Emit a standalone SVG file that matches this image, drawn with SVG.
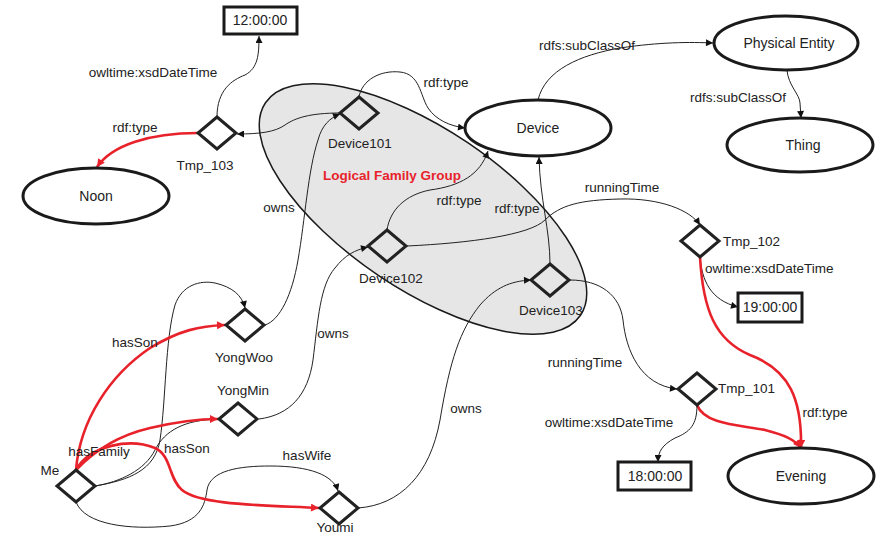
<svg xmlns="http://www.w3.org/2000/svg" width="887" height="542" viewBox="0 0 887 542">
<defs>
<marker id="ab" viewBox="0 0 10 10" refX="10" refY="5" markerWidth="9" markerHeight="7" orient="auto" markerUnits="userSpaceOnUse"><path d="M0,0 L10,5 L0,10 z" fill="#111"/></marker>
<marker id="ar" viewBox="0 0 10 10" refX="10" refY="5" markerWidth="10" markerHeight="8" orient="auto" markerUnits="userSpaceOnUse"><path d="M0,0 L10,5 L0,10 z" fill="#e8222b"/></marker>
</defs>
<style>
text{font-family:"Liberation Sans",Arial,sans-serif;fill:#222;}
.el{font-size:13.5px;}
.nl{font-size:14px;text-anchor:middle;}
.c{text-anchor:middle;}
.dia{fill:none;stroke:#222;stroke-width:3;stroke-linejoin:miter;}
.ell{fill:#fff;stroke:#1a1a1a;stroke-width:3;}
.box{fill:#fff;stroke:#1a1a1a;stroke-width:3;}
.k{fill:none;stroke:#222;stroke-width:1;marker-end:url(#ab);}
.kn{fill:none;stroke:#222;stroke-width:1;}
.r{fill:none;stroke:#e8222b;stroke-width:2.6;marker-end:url(#ar);}
</style>
<rect width="887" height="542" fill="#fff"/>
<g id="group">
<ellipse cx="423" cy="209" rx="190" ry="80" transform="rotate(34 423 209)" fill="#e6e6e6" stroke="#1a1a1a" stroke-width="1.5"/>
<text x="392" y="180" class="c" style="font-size:13.5px;font-weight:bold;fill:#e8222b">Logical Family Group</text>
</g>
<g id="connectors">
<path class="k" d="M217,117 C217,90 232,80 245,75 C258,68 259,55 259,36"/>
<path class="r" d="M198,133 C150,133 112,145 97,167"/>
<path class="k" d="M340,113 C310,113 295,118 285,125 C275,132 260,134 237,134"/>
<path class="k" d="M359,97 C362,80 380,70 400,72 C420,74 420,95 428,108 C436,120 450,126 465,128"/>
<path class="k" d="M387,230 C390,210 405,195 430,190 C460,186 480,175 488,151"/>
<path class="k" d="M550,264 C550,230 540,200 539,157"/>
<path class="k" d="M538,100 C545,70 580,55 620,48 C660,42 690,42 713,43"/>
<path class="k" d="M787,70 C788,85 800,95 800,103 L801,118"/>
<path class="k" d="M407,246 C470,243 530,235 545,220 C560,205 580,200 620,199 C660,198 690,210 700,225"/>
<path class="k" d="M700,257 C702,280 710,300 738,307"/>
<path class="r" d="M700,257 C703,310 715,340 750,355 C790,370 802,400 801,448"/>
<path class="r" d="M697,405 C705,425 740,425 765,430 C785,435 795,440 801,448"/>
<path class="k" d="M697,405 C697,425 690,432 675,438 C662,445 658,452 658,462"/>
<path class="k" d="M570,280 C600,280 620,295 623,320 C626,350 640,385 677,389"/>
<path class="k" d="M358,508 C400,505 430,475 440,420 C450,360 460,330 480,305 C495,288 510,281 531,280"/>
<path class="k" d="M259,419 C290,415 308,395 313,360 C318,320 320,285 335,268 C345,255 355,250 368,247"/>
<path class="k" d="M265,325 C280,320 292,295 298,260 C305,220 308,170 318,140 C322,125 330,118 340,114"/>
<path class="k" d="M95,486 C130,480 155,470 160,440 C166,400 165,340 175,305 C182,285 200,280 215,283 C232,287 242,295 245,308"/>
<path class="kn" d="M95,486 C120,482 145,470 155,450 C165,430 185,420 218,419"/>
<path class="k" d="M76,502 C85,525 130,530 170,526 C200,522 205,505 207,490 C210,470 240,466 270,466 C310,466 333,475 338,491"/>
<path class="r" d="M76,470 C80,420 110,375 150,348 C180,330 200,326 225,325"/>
<path class="r" d="M76,470 C95,450 120,435 150,428 C180,421 200,419 218,419"/>
<path class="r" d="M76,470 C90,445 130,438 155,448 C172,456 168,478 182,490 C200,505 260,505 319,508"/>
<text class="el c" x="153" y="77">owltime:xsdDateTime</text>
<text class="el c" x="135" y="132">rdf:type</text>
<text class="el c" x="446" y="87">rdf:type</text>
<text class="el c" x="587" y="50">rdfs:subClassOf</text>
<text class="el c" x="738" y="102">rdfs:subClassOf</text>
<text class="el c" x="279" y="212">owns</text>
<text class="el c" x="459" y="205">rdf:type</text>
<text class="el c" x="517" y="213">rdf:type</text>
<text class="el c" x="622" y="192">runningTime</text>
<text class="el" x="705" y="273">owltime:xsdDateTime</text>
<text class="el c" x="333" y="338">owns</text>
<text class="el c" x="135" y="347">hasSon</text>
<text class="el c" x="585" y="367">runningTime</text>
<text class="el c" x="466" y="413">owns</text>
<text class="el c" x="609" y="427">owltime:xsdDateTime</text>
<text class="el c" x="825" y="417">rdf:type</text>
<text class="el c" x="99" y="456">hasFamily</text>
<text class="el c" x="187" y="453">hasSon</text>
<text class="el c" x="307" y="460">hasWife</text>
</g>
<g id="n-1200"><rect class="box" x="224" y="7" width="73" height="27"/><text class="nl" x="260" y="25">12:00:00</text></g>
<g id="n-1900"><rect class="box" x="738" y="293" width="64" height="29"/><text class="nl" x="770" y="312">19:00:00</text></g>
<g id="n-1800"><rect class="box" x="618" y="462" width="73" height="28"/><text class="nl" x="655" y="481">18:00:00</text></g>
<g id="n-device"><ellipse class="ell" cx="538" cy="128" rx="73" ry="28"/><text class="nl" x="538" y="133">Device</text></g>
<g id="n-physical"><ellipse class="ell" cx="786" cy="43" rx="72" ry="27"/><text class="nl" x="789" y="48">Physical Entity</text></g>
<g id="n-thing"><ellipse class="ell" cx="800" cy="145" rx="73" ry="27"/><text class="nl" x="803" y="150">Thing</text></g>
<g id="n-noon"><ellipse class="ell" cx="96" cy="196" rx="73" ry="28"/><text class="nl" x="96" y="201">Noon</text></g>
<g id="n-evening"><ellipse class="ell" cx="801" cy="476" rx="73" ry="28"/><text class="nl" x="801" y="481">Evening</text></g>
<g id="n-tmp103"><path class="dia" d="M217,117 L236,133 L217,149 L198,133 Z"/><text class="el c" x="205" y="170">Tmp_103</text></g>
<g id="n-device101"><path class="dia" d="M359,97 L378,113 L359,129 L340,113 Z"/><text class="el c" x="360" y="148">Device101</text></g>
<g id="n-device102"><path class="dia" d="M387,230 L406,246 L387,262 L368,246 Z"/><text class="el c" x="391" y="283">Device102</text></g>
<g id="n-device103"><path class="dia" d="M550,264 L569,280 L550,296 L531,280 Z"/><text class="el c" x="551" y="315">Device103</text></g>
<g id="n-tmp102"><path class="dia" d="M700,225 L719,241 L700,257 L681,241 Z"/><text class="el" x="723" y="246">Tmp_102</text></g>
<g id="n-tmp101"><path class="dia" d="M697,373 L716,389 L697,405 L678,389 Z"/><text class="el" x="718" y="393">Tmp_101</text></g>
<g id="n-yongwoo"><path class="dia" d="M245,309 L264,325 L245,341 L226,325 Z"/><text class="el c" x="244" y="362">YongWoo</text></g>
<g id="n-yongmin"><path class="dia" d="M238,403 L257,419 L238,435 L219,419 Z"/><text class="el c" x="243" y="395">YongMin</text></g>
<g id="n-me"><path class="dia" d="M76,470 L95,486 L76,502 L57,486 Z"/><text class="el c" x="50" y="475">Me</text></g>
<g id="n-youmi"><path class="dia" d="M339,492 L358,508 L339,524 L320,508 Z"/><text class="el c" x="335" y="532">Youmi</text></g>
</svg>
